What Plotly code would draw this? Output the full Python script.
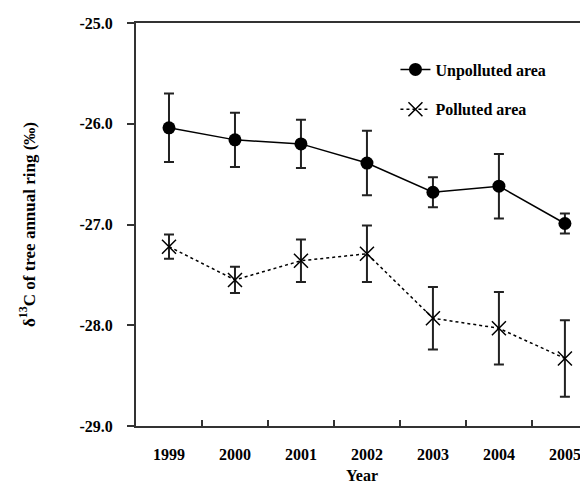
import plotly.graph_objects as go

years = ["1999", "2000", "2001", "2002", "2003", "2004", "2005"]
unpolluted = [-26.04, -26.16, -26.20, -26.39, -26.68, -26.62, -26.99]
unpolluted_err = [0.34, 0.27, 0.24, 0.32, 0.15, 0.32, 0.10]
polluted = [-27.22, -27.55, -27.36, -27.29, -27.93, -28.03, -28.33]
polluted_err = [0.12, 0.13, 0.21, 0.28, 0.31, 0.36, 0.38]
y_ticks = [-29, -28, -27, -26, -25]
y_tick_text = ["-29.0", "-28.0", "-27.0", "-26.0", "-25.0"]

font_family = "'Liberation Serif', 'Times New Roman', Times, serif"

fig = go.Figure()
fig.add_trace(go.Scatter(
    x=years, y=unpolluted, name="<b>Unpolluted area</b>", mode="lines+markers",
    legendgroup="a",
    line=dict(color="black", width=1.5),
    marker=dict(symbol="circle", size=13, color="black"),
    error_y=dict(type="data", array=unpolluted_err, visible=True, color="#222", thickness=2, width=5),
))
fig.add_trace(go.Scatter(
    x=years, y=polluted, name="<b>Polluted area</b>", mode="lines+markers",
    legendgroup="b",
    line=dict(color="black", width=1.5, dash="dot"),
    marker=dict(symbol="x-thin-open", size=14, color="black", line=dict(color="black", width=1.5)),
    error_y=dict(type="data", array=polluted_err, visible=True, color="#222", thickness=2, width=5),
))

fig.update_layout(
    width=580, height=479,
    margin=dict(l=128, r=0, t=15, b=61),
    plot_bgcolor="white", paper_bgcolor="white",
    font=dict(family=font_family, size=16, color="black"),
    showlegend=True,
    legend=dict(x=0.574, y=0.835, xanchor="left", yanchor="middle", bgcolor="rgba(0,0,0,0)",
                font=dict(family=font_family, size=16, color="black"),
                tracegroupgap=16),
    xaxis=dict(
        type="category", range=[-0.5, 6.35], showline=True, linecolor="#333", linewidth=2,
        mirror=True, ticks="inside", tickson="boundaries", ticklen=6, tickwidth=2, tickcolor="#333",
        showgrid=False, zeroline=False, ticklabelstandoff=13,
        tickfont=dict(family=font_family, size=16, color="black"),
        ticktext=["<b>%s</b>" % y for y in years], tickvals=years,
        title=dict(text="<b>Year</b>", font=dict(family=font_family, size=16), standoff=8),
    ),
    yaxis=dict(
        range=[-29, -25], showline=True, linecolor="#333", linewidth=2, mirror=False,
        ticks="outside", ticklen=7, tickwidth=2, tickcolor="#333",
        tickvals=y_ticks, ticktext=["<b>%s</b>" % t for t in y_tick_text],
        showgrid=False, zeroline=False, ticklabelstandoff=11,
        tickfont=dict(family=font_family, size=16, color="black"),
        title=dict(text="<b>δ<sup>13</sup>C of tree annual ring (‰)</b>",
                   font=dict(family=font_family, size=17), standoff=40),
    ),
)

fig.write_html("out.html")
